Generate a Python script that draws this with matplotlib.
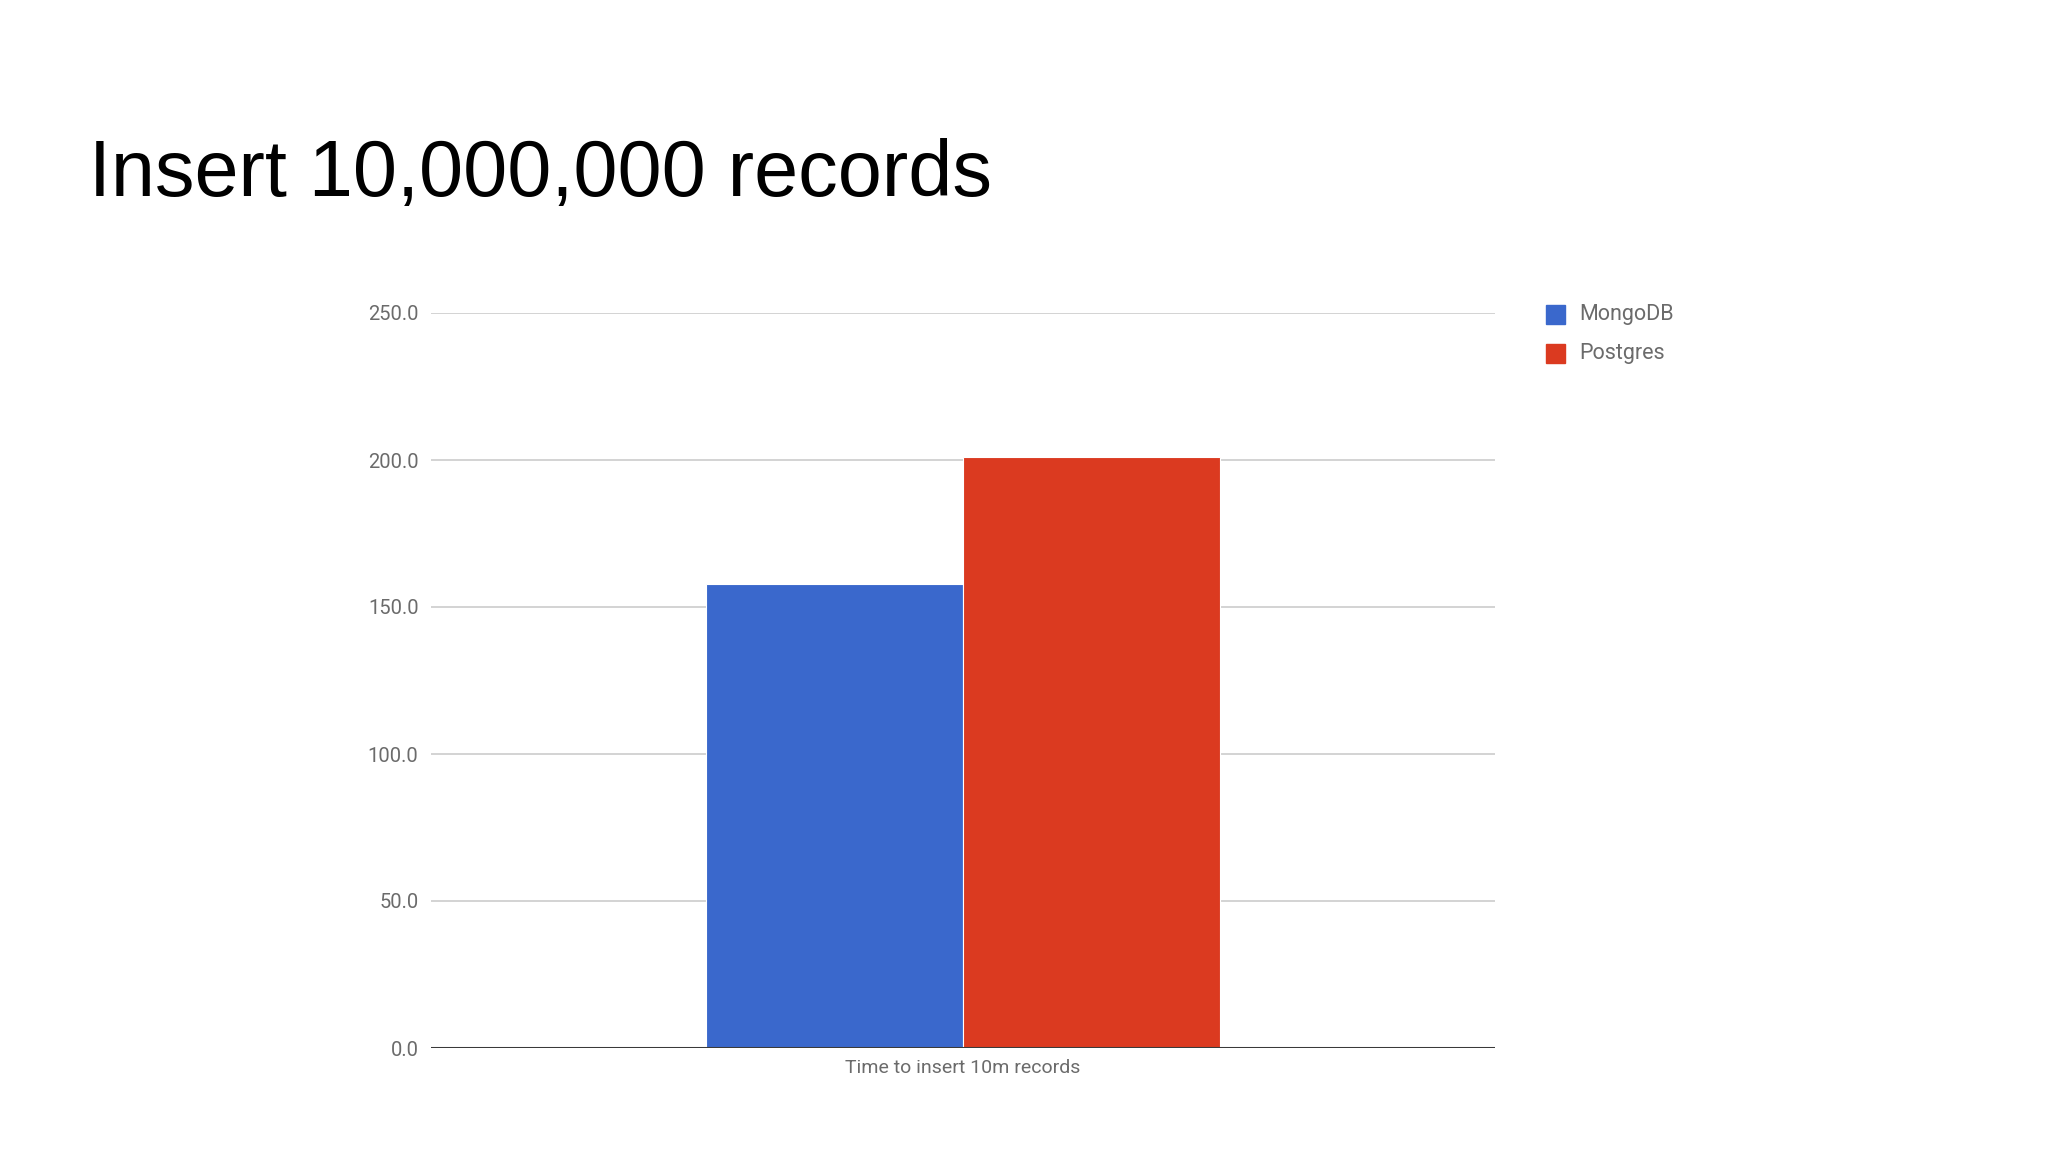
import numpy as np
import matplotlib.pyplot as plt
from matplotlib.patches import Rectangle

# data
categories = ['Time to insert 10m records']
series_names = ['MongoDB', 'Postgres']
mongodb = [157.8]
postgres = [201.0]
yticks = [0, 50, 100, 150, 200, 250]

colors = ['#3A68CC', '#DB3A20']
gray = '#6B6B6B'

plt.rcParams['font.family'] = ['Roboto', 'DejaVu Sans']

fig = plt.figure(figsize=(20.48, 11.52), dpi=100)
ax = fig.add_axes([431/2048, 1 - 1048/1152, 1064/2048, 735/1152])

x = np.arange(len(categories))
w = 0.242
ax.bar(x - w/2, mongodb, w, color=colors[0], edgecolor='white', linewidth=0.8, zorder=3)
ax.bar(x + w/2, postgres, w, color=colors[1], edgecolor='white', linewidth=0.8, zorder=3)

ax.set_xlim(-0.5, 0.5)
ax.set_ylim(0, 250)
ax.set_yticks(yticks)
ax.set_yticklabels(['%.1f' % v for v in yticks], fontsize=14.5, color=gray)
ax.set_xticks(x)
ax.set_xticklabels(categories, fontsize=14, color=gray)
ax.tick_params(length=0)
ax.tick_params(axis='y', pad=9)
ax.tick_params(axis='x', pad=8)
ax.grid(axis='y', color='#CCCCCC', linewidth=1.2, zorder=0)
ax.axhline(0, color='#3A3A3A', linewidth=2.2, zorder=4)
for s in ax.spines.values():
    s.set_visible(False)

# legend drawn by hand to match the slide
ly = [314.5, 353]
for i, name in enumerate(series_names):
    fig.patches.append(Rectangle((1546/2048, 1 - (ly[i] + 9.5)/1152), 19/2048, 19/1152,
                                 transform=fig.transFigure, color=colors[i]))
    fig.text(1579/2048, 1 - ly[i]/1152, name, fontsize=15.5, color=gray, va='center')

fig.text(89/2048, 1 - 196/1152, 'Insert 10,000,000 records', fontsize=57,
         family=['Liberation Sans', 'DejaVu Sans'], va='baseline', color='black')

fig.savefig('out.png', dpi=100, facecolor='white')
